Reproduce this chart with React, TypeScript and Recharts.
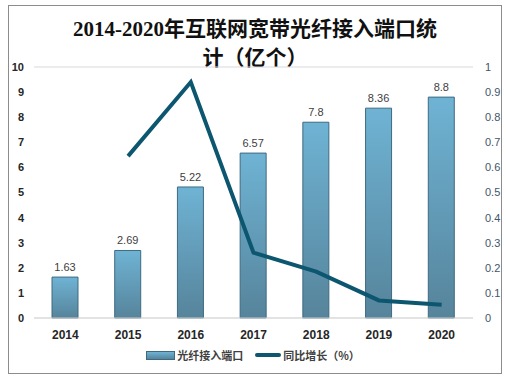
import { ComposedChart, Bar, Line, XAxis, YAxis, CartesianGrid, LabelList } from 'recharts';

// 光纤接入端口 (亿个) and 同比增长
const years = ['2014', '2015', '2016', '2017', '2018', '2019', '2020'];
const ports = [1.63, 2.69, 5.22, 6.57, 7.8, 8.36, 8.8];
const growth = [null, 0.645, 0.94, 0.26, 0.185, 0.07, 0.053];
const leftTicks = [0, 1, 2, 3, 4, 5, 6, 7, 8, 9, 10];
const rightTicks = [0, 0.1, 0.2, 0.3, 0.4, 0.5, 0.6, 0.7, 0.8, 0.9, 1];

const data = years.map((year, i) => ({ year, ports: ports[i], growth: growth[i] }));

export default function App() {
  return (
    <div style={{ position: 'fixed', left: 0, top: 0, width: 506, height: 380, background: '#fff', fontFamily: "'Liberation Sans', Arial, sans-serif" }}>
      <div style={{ position: 'absolute', left: 8, top: 5, width: 492, height: 367, border: '1px solid #8c8c8c' }} />

      <div style={{ position: 'absolute', left: 0, top: 15, width: 510, textAlign: 'center', fontFamily: "'Liberation Serif', 'Noto Sans CJK SC', serif", fontWeight: 'bold', fontSize: 21, lineHeight: '29px', color: '#111' }}>
        2014-2020年互联网宽带光纤接入端口统<br />计（亿个）
      </div>

      <ComposedChart width={506} height={380} data={data} margin={{ top: 67, right: 0, left: 0, bottom: 32 }} style={{ position: 'absolute', left: 0, top: 0 }}>
        <defs>
          <linearGradient id="barFill" x1="0" y1="0" x2="0" y2="1">
            <stop offset="0%" stopColor="#6fb3d4" />
            <stop offset="100%" stopColor="#56849b" />
          </linearGradient>
        </defs>
        <CartesianGrid vertical={false} stroke="#d9d9d9" />
        <XAxis dataKey="year" axisLine={{ stroke: '#d9d9d9' }} tickLine={false} height={30}
          tick={{ fill: '#262626', fontSize: 12, fontWeight: 'bold' }} dy={4} />
        <YAxis yAxisId="left" domain={[0, 10]} ticks={leftTicks} width={34} axisLine={false} tickLine={false}
          tick={{ fill: '#262626', fontSize: 11, fontWeight: 'bold' }} dx={-2} />
        <YAxis yAxisId="right" orientation="right" domain={[0, 1]} ticks={rightTicks} width={33} axisLine={false} tickLine={false}
          tick={{ fill: '#44546a', fontSize: 11, textAnchor: 'start' }} dx={4} />
        <Bar yAxisId="left" dataKey="ports" fill="url(#barFill)" stroke="#3e6a80" strokeWidth={1} barSize={26} isAnimationActive={false}>
          <LabelList dataKey="ports" position="top" offset={6} fill="#404040" fontSize={11} />
        </Bar>
        <Line yAxisId="right" dataKey="growth" stroke="#0c5670" strokeWidth={4} dot={false} connectNulls={false} isAnimationActive={false} />
      </ComposedChart>

      <div style={{ position: 'absolute', left: 0, top: 347, width: 506, display: 'flex', justifyContent: 'center', alignItems: 'center', fontSize: 11, fontWeight: 'bold', color: '#404040', fontFamily: "'Noto Sans CJK SC', sans-serif" }}>
        <span style={{ display: 'inline-block', width: 27, height: 7, background: 'linear-gradient(#6fb3d4, #56849b)', border: '1px solid #3e6a80', marginRight: 2 }} />
        <span style={{ marginRight: 12 }}>光纤接入端口</span>
        <span style={{ display: 'inline-block', width: 26, height: 4, background: '#0c5670', borderRadius: 2, marginRight: 2 }} />
        <span>同比增长（%）</span>
      </div>
    </div>
  );
}
